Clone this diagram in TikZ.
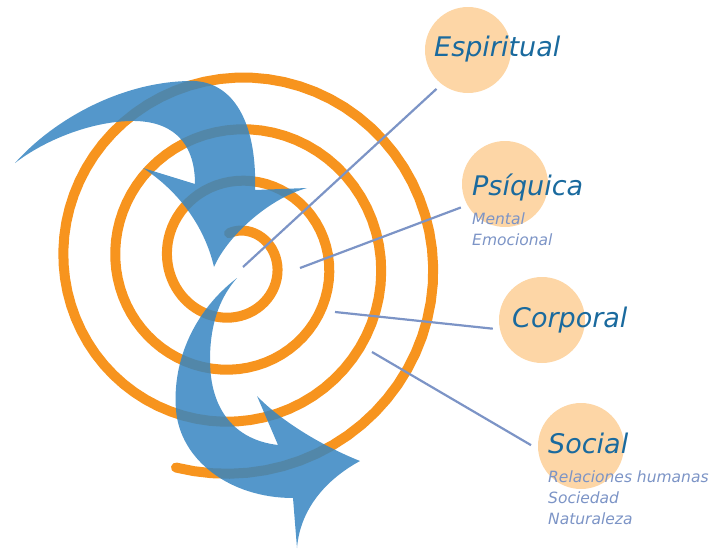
\documentclass[tikz,border=0pt]{standalone}
\usepackage{fontspec}
\setmainfont{DejaVu Sans}
\usepackage{xcolor}
\usepackage{tikz}

\definecolor{spiralorange}{RGB}{247,148,30}
\definecolor{arrowblue}{RGB}{54,133,194}
\definecolor{peach}{RGB}{253,214,166}
\definecolor{titleblue}{RGB}{26,106,158}
\definecolor{subblue}{RGB}{124,148,198}

% radius of the spiral at angle #1 (degrees, clockwise on screen)
\newcommand{\spiralr}[1]{(41.7 + 8.28*rad(#1) + 8.28*cos(#1))}

\begin{document}
\begin{tikzpicture}[x=1pt, y=-1pt,
    dimbox/.style={circle, fill=peach, minimum size=86pt, inner sep=0pt, outer sep=7pt},
    dimname/.style={anchor=base west, inner sep=0pt, text=titleblue, font=\fontsize{27}{32}\selectfont\itshape},
    dimlist/.style={anchor=north west, inner sep=0pt, align=left, text=subblue, font=\fontsize{15.5}{21}\selectfont\itshape},
    connector/.style={draw=subblue, line width=2.2pt},
    spiralline/.style={draw=spiralorange, line width=10pt, line cap=round},
    bigarrow/.style={fill=arrowblue, fill opacity=0.85}]
    \useasboundingbox (0,0) rectangle (712,549);

    % spiral, from the centre outwards
    \draw[spiralline] plot[domain=-86:1184, samples=260, variable=\t]
        ({227 + \spiralr{\t}*cos(\t)}, {263 + \spiralr{\t}*sin(\t)});

    % upper arrow
    \fill[bigarrow] (15,163) .. controls (55,118) and (125,80) .. (195,81)
        .. controls (238,84) and (257,130) .. (255,190) -- (307,188)
        .. controls (270,198) and (228,235) .. (214,267)
        .. controls (205,228) and (180,192) .. (143,168) -- (195,184)
        .. controls (195,140) and (170,120) .. (130,121)
        .. controls (90,122) and (45,140) .. (15,163) -- cycle;

    % lower arrow
    \fill[bigarrow] (237,278) .. controls (195,310) and (172,360) .. (176,410)
        .. controls (180,460) and (230,498) .. (293,498) -- (297,548)
        .. controls (300,510) and (325,480) .. (360,461)
        .. controls (320,445) and (280,420) .. (257,396) -- (278,445)
        .. controls (235,440) and (210,410) .. (210,360)
        .. controls (210,320) and (222,295) .. (237,278) -- cycle;

    \node[dimbox] (espiritual) at (468,50) {};
    \node[dimbox] (psiquica) at (505,184) {};
    \node[dimbox] (corporal) at (542,320) {};
    \node[dimbox] (social) at (581,446) {};

    \coordinate (c1) at (243,267);
    \coordinate (c2) at (300,268);
    \coordinate (c3) at (335,312);
    \coordinate (c4) at (372,352);

    \draw[connector] (c1) -- (espiritual.231);
    \draw[connector] (c2) -- (psiquica.208);
    \draw[connector] (c3) -- (corporal.190);
    \draw[connector] (c4) -- (social.179);

    \node[dimname] (espiritualtxt) at (434,56) {Espiritual};
    \node[dimname] (psiquicatxt) at (472,195) {Psíquica};
    \node[dimname] (corporaltxt) at (512,327) {Corporal};
    \node[dimname] (socialtxt) at (548,453) {Social};

    \node[dimlist] (psiquicalist) at (472,213) {Mental\\Emocional};
    \node[dimlist] (sociallist) at (548,471) {Relaciones humanas\\Sociedad\\Naturaleza};
\end{tikzpicture}
\end{document}
